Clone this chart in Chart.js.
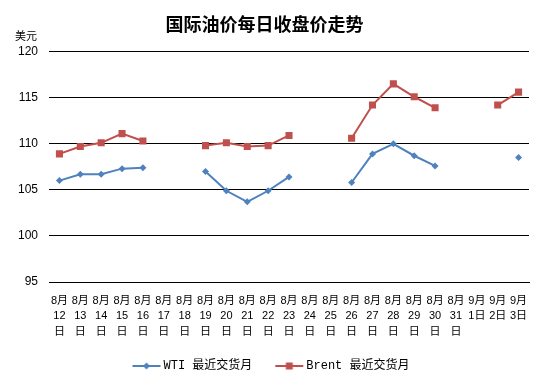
<!DOCTYPE html>
<html><head><meta charset="utf-8">
<script src="https://cdn.jsdelivr.net/npm/chart.js@4/dist/chart.umd.min.js"></script>
<style>html,body{margin:0;padding:0;background:#fff}#wrap{width:544px;height:384px}</style>
</head><body><div id="wrap"><canvas id="c" width="544" height="384"></canvas></div>
<script>
const categories = [
  ['8月','12','日'],['8月','13','日'],['8月','14','日'],['8月','15','日'],['8月','16','日'],
  ['8月','17','日'],['8月','18','日'],['8月','19','日'],['8月','20','日'],['8月','21','日'],
  ['8月','22','日'],['8月','23','日'],['8月','24','日'],['8月','25','日'],['8月','26','日'],
  ['8月','27','日'],['8月','28','日'],['8月','29','日'],['8月','30','日'],['8月','31','日'],
  ['9月','1日'],['9月','2日'],['9月','3日']
];
const wti = [106.0,106.7,106.7,107.3,107.4,null,null,107.0,104.9,103.7,104.9,106.4,null,null,105.8,108.9,110.0,108.7,107.6,null,null,null,108.5];
const brent = [108.9,109.7,110.1,111.1,110.3,null,null,109.8,110.1,109.7,109.8,110.9,null,null,110.6,114.2,116.5,115.1,113.9,null,null,114.2,115.6];
const yTicks = [95,100,105,110,115,120];
const title = '国际油价每日收盘价走势';
const unit = '美元';
const seriesNames = ['WTI 最近交货月','Brent 最近交货月'];
const colors = ['#4F81BD','#C0504D'];

function legendIcon(color, shape){
  const c = document.createElement('canvas');
  c.width = 56; c.height = 10;
  const x = c.getContext('2d');
  x.strokeStyle = color; x.lineWidth = 2;
  x.beginPath(); x.moveTo(22,5); x.lineTo(50,5); x.stroke();
  x.fillStyle = color;
  x.beginPath();
  if (shape === 'rect') { x.rect(32.5,1.5,7,7); }
  else { x.moveTo(36,1.5); x.lineTo(39.5,5); x.lineTo(36,8.5); x.lineTo(32.5,5); x.closePath(); }
  x.fill();
  return c;
}

const unitPlugin = {
  id:'unitLabel',
  afterDraw(chart){
    const ctx = chart.ctx;
    ctx.save();
    ctx.font = '11px "Noto Sans CJK SC", sans-serif';
    ctx.fillStyle = '#000';
    ctx.textAlign = 'center'; ctx.textBaseline = 'middle';
    ctx.fillText(unit, 26, 36);
    ctx.restore();
  }
};

new Chart(document.getElementById('c'), {
  type:'line',
  data:{
    labels: categories,
    datasets:[
      {label:seriesNames[0], data:wti, borderColor:colors[0], backgroundColor:colors[0], borderWidth:2,
       pointStyle:'rectRot', pointRadius:3.5, pointHoverRadius:3.5, pointBorderWidth:0, spanGaps:false, tension:0},
      {label:seriesNames[1], data:brent, borderColor:colors[1], backgroundColor:colors[1], borderWidth:2,
       pointStyle:'rect', pointRadius:5, pointHoverRadius:5, pointBorderWidth:0, spanGaps:false, tension:0}
    ]
  },
  options:{
    responsive:false, animation:false, devicePixelRatio:1,
    layout:{padding:{left:0,right:15,top:0,bottom:2}},
    plugins:{
      title:{display:true, text:title, color:'#000', font:{family:'"Noto Sans CJK SC", sans-serif', size:18, weight:'bold', lineHeight:1.2}, padding:{top:13,bottom:17}},
      legend:{position:'bottom',
        labels:{usePointStyle:true, pointStyleWidth:38, padding:10, color:'#000',
          font:{family:'"Liberation Mono", "Noto Sans CJK SC", monospace', size:12},
          generateLabels(chart){
            return chart.data.datasets.map((d,i)=>({text:d.label, fillStyle:d.borderColor, strokeStyle:d.borderColor,
              pointStyle: legendIcon(d.borderColor, i===0?'rectRot':'rect'), lineWidth:0, datasetIndex:i, hidden:false}));
          }}},
      tooltip:{enabled:false}
    },
    scales:{
      x:{
        offset:true,
        grid:{display:false, drawTicks:false, offset:true},
        border:{display:true, color:'#000', width:1},
        ticks:{autoSkip:false, maxRotation:0, minRotation:0, padding:11, color:'#000',
          font:{family:'"Liberation Sans", "Noto Sans CJK SC", sans-serif', size:11, lineHeight:1.4}},
        afterFit(s){ s.height = 68; }
      },
      y:{
        min:95, max:120,
        afterBuildTicks(s){ s.ticks = yTicks.map(v=>({value:v})); },
        grid:{color:'#000', lineWidth:1, drawTicks:false},
        border:{display:false},
        ticks:{padding:11, color:'#000', font:{family:'"Liberation Sans", sans-serif', size:12}},
        afterFit(s){ s.width = 49; }
      }
    }
  },
  plugins:[unitPlugin]
});
</script></body></html>
